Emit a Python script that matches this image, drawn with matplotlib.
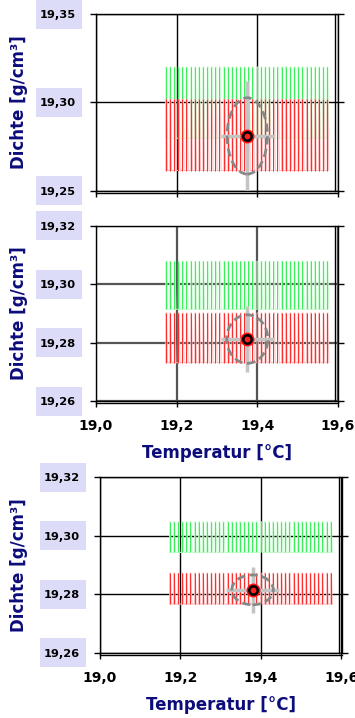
import matplotlib
matplotlib.use('Agg')
import matplotlib.pyplot as plt
from matplotlib.patches import Ellipse, Rectangle

# temperature of each step of the measurement sweep (°C)
temps = [19.173, 19.183, 19.194, 19.204, 19.214, 19.224, 19.235, 19.245,
         19.255, 19.265, 19.276, 19.286, 19.296, 19.306, 19.317, 19.327,
         19.337, 19.347, 19.358, 19.368, 19.378, 19.388, 19.399, 19.409,
         19.419, 19.429, 19.440, 19.450, 19.460, 19.470, 19.481, 19.491,
         19.501, 19.511, 19.522, 19.532, 19.542, 19.552, 19.563, 19.573]

# density range swept per panel (g/cm3)
green_lo = [19.2797, 19.2914, 19.2943]
green_hi = [19.3200, 19.3078, 19.3048]
red_lo = [19.2614, 19.2731, 19.2766]
red_hi = [19.3017, 19.2901, 19.2872]

# mean point, uncertainty ellipse (half axes) and error bars per panel
mean_t = [19.375, 19.375, 19.379]
mean_d = [19.2810, 19.2812, 19.2815]
ell_t = [0.050, 0.051, 0.0515]
ell_d = [0.0216, 0.0083, 0.0051]
err_t = [0.066, 0.066, 0.066]
err_d = [0.031, 0.0114, 0.0078]

ylims = [(19.25, 19.35), (19.26, 19.32), (19.26, 19.32)]
yticks = [[19.25, 19.30, 19.35],
          [19.26, 19.28, 19.30, 19.32],
          [19.26, 19.28, 19.30, 19.32]]
xticks = [19.0, 19.2, 19.4, 19.6]

W, H = 355, 718
NAVY = '#0c0c7a'
BOX = '#dcdcf8'

# axes boxes in pixels: left, right, top, bottom
boxes = [(96, 338, 14, 190.7), (96, 338, 225.7, 401), (100, 341.5, 477.3, 652.7)]
grid_colors = ['#000000', '#555555', '#000000']
grid_widths = [1.0, 1.6, 1.0]

plt.rcParams['font.family'] = 'DejaVu Sans'
plt.rcParams['font.weight'] = 'bold'

fig = plt.figure(figsize=(W / 100, H / 100), dpi=100, facecolor='white')


def sweep(ax, lo, hi, light, dark):
    xs, ys = [], []
    for t in temps:
        xs += [t, t, t + 0.002, t + 0.0042]
        ys += [lo, hi, hi, lo]
    ax.plot(xs, ys, color=light, lw=0.7, zorder=3)
    ax.vlines(temps, lo, hi, color=dark, lw=0.7, zorder=3)


for i in range(3):
    l, r, t, b = boxes[i]
    ax = fig.add_axes([l / W, 1 - b / H, (r - l) / W, (b - t) / H])
    ax.set_xlim(19.0, 19.6)
    ax.set_ylim(*ylims[i])
    ax.set_xticks(xticks)
    ax.set_yticks(yticks[i])
    ax.set_yticklabels([f'{v:.2f}'.replace('.', ',') for v in yticks[i]],
                       fontsize=8.2, fontweight='bold')
    if i == 0:
        ax.set_xticklabels([])
    else:
        ax.set_xticklabels([f'{v:.1f}'.replace('.', ',') for v in xticks],
                           fontsize=10, fontweight='bold')
        ax.set_xlabel('Temperatur [°C]', color=NAVY, fontsize=12,
                      fontweight='bold', labelpad=8)
    ax.tick_params(axis='y', which='both', left=True, right=True, direction='out',
                   length=4, width=1, pad=10.5)
    ax.tick_params(axis='x', direction='out', length=4, width=1, pad=9)
    ax.grid(True, color=grid_colors[i], lw=grid_widths[i], zorder=1)
    ax.set_axisbelow(True)
    for s in ax.spines.values():
        s.set_color('black')
        s.set_linewidth(1.0)
        s.set_zorder(5)

    # Excel-like double border on bottom and right
    ax.plot([0, 1], [-2 / (b - t)] * 2, color='black', lw=1.0,
            transform=ax.transAxes, clip_on=False, zorder=5)
    ax.plot([1 - 3 / (r - l)] * 2, [0, 1], color='black', lw=1.0,
            transform=ax.transAxes, clip_on=False, zorder=5)

    ax.set_ylabel('Dichte [g/cm³]', color=NAVY, fontsize=12, fontweight='bold',
                  va='center')
    ax.yaxis.set_label_coords((19 - l) / (r - l), 0.5)

    # lavender boxes behind the y tick labels
    for v in yticks[i]:
        yd = ax.transData.transform((19.0, v))
        yf = fig.transFigure.inverted().transform(yd)[1]
        fig.patches.append(Rectangle(((l - 60) / W, yf - 14.5 / H), 46 / W, 29 / H,
                                     transform=fig.transFigure, facecolor=BOX,
                                     edgecolor='none', zorder=-1))

    sweep(ax, green_lo[i], green_hi[i], '#bdfcc6', '#36f058')
    sweep(ax, red_lo[i], red_hi[i], '#ffb4b4', '#ff2a2a')

    ax.errorbar(mean_t[i], mean_d[i], xerr=err_t[i], yerr=err_d[i], fmt='none',
                ecolor='#c4c4c4', elinewidth=2.5, capsize=0, zorder=6)
    ax.add_patch(Ellipse((mean_t[i], mean_d[i]), 2 * ell_t[i], 2 * ell_d[i],
                         fill=False, ec='#888888', lw=2, ls=(0, (3, 1.6)), zorder=7))
    ax.plot(mean_t[i], mean_d[i], 'o', ms=10, color='#ff1010', mew=0, zorder=8)
    ax.plot(mean_t[i], mean_d[i], 'o', ms=6, mfc='#ff2020', mec='black', mew=1.8,
            zorder=9)

fig.savefig('out.png', dpi=100, facecolor='white')
